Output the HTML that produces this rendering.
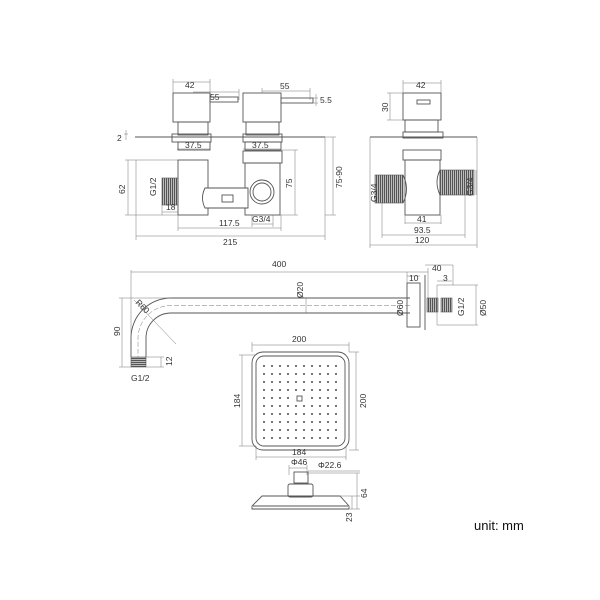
<!DOCTYPE html>
<html><head><meta charset="utf-8"><style>
html,body{margin:0;padding:0;background:#fff}
svg{display:block}
text{font-family:"Liberation Sans",sans-serif;font-size:8.5px;fill:#333}
.l{stroke:#555;stroke-width:0.9;fill:none}
.d{stroke:#777;stroke-width:0.5;fill:none}
.t{fill:#888;stroke:#444;stroke-width:0.6}
</style></head><body>
<svg width="600" height="600" viewBox="0 0 600 600">
<defs>
<pattern id="th" width="2" height="2" patternUnits="userSpaceOnUse"><rect width="2" height="2" fill="#bbb"/><rect width="1" height="2" fill="#555"/></pattern>
<pattern id="tv" width="2" height="2" patternUnits="userSpaceOnUse"><rect width="2" height="2" fill="#bbb"/><rect width="2" height="1" fill="#555"/></pattern>
</defs>
<!-- Front view valves -->
<g class="l">
<line x1="135" y1="137" x2="325" y2="137"/>
<rect x="173" y="93" width="37" height="29"/>
<rect x="210" y="97" width="28" height="5"/>
<rect x="178" y="122" width="30" height="13"/>
<rect x="172" y="134" width="39" height="8"/>
<rect x="178" y="142" width="32" height="8"/>
<rect x="178" y="160" width="30" height="55"/>
<rect x="243" y="93" width="38" height="29"/>
<rect x="281" y="98" width="32" height="5"/>
<rect x="246" y="122" width="33" height="13"/>
<rect x="243" y="134" width="39" height="8"/>
<rect x="245" y="142" width="36" height="8"/>
<rect x="243" y="151" width="39" height="12"/>
<rect x="245" y="163" width="35" height="52"/>
<path d="M205 188 H248 V208 H205 Q200 198 205 188Z" fill="#fff"/>
<rect x="222" y="195" width="11" height="7"/>
<circle cx="262" cy="192" r="12" fill="#fff"/>
<circle cx="262" cy="192" r="9"/>
</g>
<rect x="162" y="178" width="16" height="27" fill="url(#th)" stroke="#555" stroke-width="0.6"/>
<g class="d">
<line x1="173" y1="82" x2="210" y2="82"/><line x1="173" y1="79" x2="173" y2="93"/><line x1="210" y1="79" x2="210" y2="93"/>
<line x1="193" y1="92" x2="239" y2="92"/><line x1="239" y1="89" x2="239" y2="100"/>
<line x1="262" y1="91" x2="310" y2="91"/><line x1="262" y1="88" x2="262" y2="93"/><line x1="310" y1="88" x2="310" y2="100"/>
<line x1="313" y1="98" x2="318" y2="98"/><line x1="313" y1="103" x2="318" y2="103"/><line x1="316" y1="94" x2="316" y2="106"/>
<line x1="124" y1="134" x2="128" y2="134"/><line x1="126" y1="130" x2="126" y2="140"/>
<line x1="177" y1="149" x2="210" y2="149"/><line x1="243" y1="149" x2="281" y2="149"/>
<line x1="125" y1="160" x2="178" y2="160"/><line x1="125" y1="215" x2="178" y2="215"/><line x1="128" y1="160" x2="128" y2="215"/>
<line x1="162" y1="205" x2="162" y2="215"/><line x1="162" y1="212" x2="178" y2="212"/>
<line x1="282" y1="150" x2="298" y2="150"/><line x1="280" y1="215" x2="298" y2="215"/><line x1="295" y1="150" x2="295" y2="215"/>
<line x1="325" y1="137" x2="336" y2="137"/><line x1="325" y1="215" x2="336" y2="215"/><line x1="333" y1="137" x2="333" y2="215"/>
<line x1="325" y1="137" x2="325" y2="240"/><line x1="136" y1="160" x2="136" y2="240"/>
<line x1="252" y1="215" x2="252" y2="227"/><line x1="273" y1="215" x2="273" y2="227"/><line x1="252" y1="224" x2="273" y2="224"/>
<line x1="178" y1="215" x2="178" y2="231"/><line x1="281" y1="215" x2="281" y2="231"/><line x1="178" y1="228" x2="281" y2="228"/>
<line x1="136" y1="236" x2="325" y2="236"/>
</g>
<text x="185" y="88">42</text><text x="210" y="100">55</text><text x="280" y="89">55</text><text x="320" y="103">5.5</text>
<text x="117" y="141">2</text><text x="185" y="148">37.5</text><text x="252" y="148">37.5</text>
<text x="166" y="210">18</text><text x="252" y="222">G3/4</text><text x="219" y="226">117.5</text><text x="223" y="245">215</text>
<text transform="translate(125,194) rotate(-90)">62</text>
<text transform="translate(156,196) rotate(-90)">G1/2</text>
<text transform="translate(292,188) rotate(-90)">75</text>
<text transform="translate(342,188) rotate(-90)">75-90</text>
<!-- Side view -->
<g class="l">
<line x1="370" y1="137" x2="477" y2="137"/>
<rect x="403" y="93" width="38" height="27"/>
<rect x="417" y="100" width="13" height="4"/>
<rect x="405" y="120" width="33" height="12"/>
<rect x="403" y="132" width="40" height="6"/>
<rect x="403" y="150" width="38" height="10"/>
<rect x="405" y="160" width="35" height="55"/>
<path d="M403 175 Q410 189 403 203"/><path d="M440 170 Q434 182 440 195"/>
</g>
<rect x="375" y="175" width="28" height="28" fill="url(#th)" stroke="#555" stroke-width="0.6"/>
<rect x="440" y="170" width="34" height="25" fill="url(#th)" stroke="#555" stroke-width="0.6"/>
<g class="d">
<line x1="403" y1="83" x2="441" y2="83"/><line x1="403" y1="80" x2="403" y2="93"/><line x1="441" y1="80" x2="441" y2="93"/>
<line x1="387" y1="93" x2="403" y2="93"/><line x1="387" y1="120" x2="403" y2="120"/><line x1="390" y1="93" x2="390" y2="120"/>
<line x1="476" y1="170" x2="476" y2="195"/>
<line x1="370" y1="137" x2="370" y2="248"/><line x1="477" y1="137" x2="477" y2="248"/>
<line x1="382" y1="203" x2="382" y2="238"/><line x1="465" y1="195" x2="465" y2="238"/>
<line x1="405" y1="215" x2="405" y2="224"/><line x1="441" y1="215" x2="441" y2="224"/><line x1="405" y1="223" x2="441" y2="223"/>
<line x1="382" y1="235" x2="465" y2="235"/><line x1="370" y1="245" x2="477" y2="245"/>
</g>
<text x="416" y="88">42</text><text x="417" y="222">41</text><text x="414" y="233">93.5</text><text x="415" y="243">120</text>
<text transform="translate(388,112) rotate(-90)">30</text>
<text transform="translate(377,202) rotate(-90)">G3/4</text>
<text transform="translate(473,196) rotate(-90)">G3/4</text>
<!-- Arm -->
<g class="l">
<path d="M410 298 H171 A40 40 0 0 0 131 338 V357"/>
<path d="M410 313 H171 A25 25 0 0 0 146 338 V357"/>
<rect x="407" y="283" width="13" height="44"/>
<line x1="425" y1="275" x2="425" y2="330"/>
</g>
<path d="M410 305.5 H171 A33 33 0 0 0 138 338 V360" class="d" stroke-dasharray="5 2"/>
<rect x="131" y="357" width="15" height="10" fill="url(#tv)" stroke="#555" stroke-width="0.6"/>
<rect x="427" y="298" width="11" height="14" fill="url(#th)" stroke="#555" stroke-width="0.6"/>
<rect x="441" y="298" width="11" height="14" fill="url(#th)" stroke="#555" stroke-width="0.6"/>
<g class="d">
<line x1="131" y1="272" x2="428" y2="272"/><line x1="131" y1="270" x2="131" y2="338"/><line x1="428" y1="268" x2="428" y2="298"/>
<line x1="119" y1="298" x2="171" y2="298"/><line x1="119" y1="367" x2="131" y2="367"/><line x1="122" y1="298" x2="122" y2="367"/>
<line x1="146" y1="357" x2="164" y2="357"/><line x1="146" y1="367" x2="164" y2="367"/><line x1="161" y1="357" x2="161" y2="367"/>
<line x1="134" y1="300" x2="176" y2="344"/>
<line x1="306" y1="298" x2="306" y2="313"/>
<line x1="437" y1="285" x2="478" y2="285"/><line x1="437" y1="325" x2="478" y2="325"/><line x1="476" y1="285" x2="476" y2="325"/><line x1="437" y1="285" x2="437" y2="325"/>
<line x1="407" y1="283" x2="407" y2="272"/><line x1="407" y1="276" x2="420" y2="276"/>
<line x1="425" y1="265" x2="453" y2="265"/><line x1="453" y1="265" x2="453" y2="285"/>
<line x1="437" y1="281" x2="452" y2="281"/>
</g>
<text x="272" y="267">400</text><text x="409" y="281">10</text><text x="432" y="271">40</text><text x="443" y="281">3</text>
<text x="131" y="381">G1/2</text>
<text transform="translate(120,336) rotate(-90)">90</text>
<text transform="translate(172,366) rotate(-90)">12</text>
<text transform="translate(303,298) rotate(-90)">Ø20</text>
<text transform="translate(403,316) rotate(-90)">Ø60</text>
<text transform="translate(464,316) rotate(-90)">G1/2</text>
<text transform="translate(486,316) rotate(-90)">Ø50</text>
<text transform="translate(135,303) rotate(45)">R60</text>
<!-- Shower head -->
<g class="l">
<rect x="252" y="352" width="97" height="98" rx="11"/>
<rect x="256" y="356" width="89" height="90" rx="8"/>
<rect x="297" y="396" width="5" height="5"/>
<rect x="294" y="472" width="14" height="11"/>
<rect x="288" y="484" width="25" height="13" rx="2"/>
<path d="M262 496 H340 L349 506 V509 H252 V506 Z"/>
<line x1="253" y1="506" x2="348" y2="506"/>
</g>
<g fill="#666" id="dots"></g>
<g class="d">
<line x1="252" y1="345" x2="349" y2="345"/><line x1="252" y1="342" x2="252" y2="352"/><line x1="349" y1="342" x2="349" y2="352"/>
<line x1="239" y1="355" x2="256" y2="355"/><line x1="239" y1="446" x2="256" y2="446"/><line x1="242" y1="355" x2="242" y2="446"/>
<line x1="349" y1="352" x2="359" y2="352"/><line x1="349" y1="450" x2="359" y2="450"/><line x1="356" y1="352" x2="356" y2="450"/>
<line x1="256" y1="446" x2="256" y2="460"/><line x1="346" y1="446" x2="346" y2="460"/><line x1="256" y1="457" x2="346" y2="457"/>
<line x1="289" y1="468" x2="307" y2="468"/><line x1="289" y1="465" x2="289" y2="475"/><line x1="307" y1="465" x2="307" y2="475"/>
<line x1="308" y1="471" x2="360" y2="471"/>
<line x1="308" y1="473" x2="360" y2="473"/><line x1="340" y1="496" x2="360" y2="496"/><line x1="350" y1="509" x2="360" y2="509"/>
<line x1="357" y1="473" x2="357" y2="509"/><line x1="352" y1="496" x2="352" y2="509"/>
</g>
<g fill="#777">
<script>
</script>
</g>
<text x="292" y="342">200</text><text x="292" y="455">184</text><text x="291" y="465">Φ46</text><text x="318" y="468">Φ22.6</text>
<text transform="translate(240,408) rotate(-90)">184</text>
<text transform="translate(366,408) rotate(-90)">200</text>
<text transform="translate(367,498) rotate(-90)">64</text>
<text transform="translate(352,522) rotate(-90)">23</text>
<text x="474" y="530" style="font-size:13px;fill:#111">unit: mm</text>
<g fill="#777">
<rect x="263" y="365" width="2" height="2"/><rect x="271" y="365" width="2" height="2"/><rect x="279" y="365" width="2" height="2"/><rect x="287" y="365" width="2" height="2"/><rect x="295" y="365" width="2" height="2"/><rect x="303" y="365" width="2" height="2"/><rect x="311" y="365" width="2" height="2"/><rect x="319" y="365" width="2" height="2"/><rect x="327" y="365" width="2" height="2"/><rect x="335" y="365" width="2" height="2"/>
<rect x="263" y="373" width="2" height="2"/><rect x="271" y="373" width="2" height="2"/><rect x="279" y="373" width="2" height="2"/><rect x="287" y="373" width="2" height="2"/><rect x="295" y="373" width="2" height="2"/><rect x="303" y="373" width="2" height="2"/><rect x="311" y="373" width="2" height="2"/><rect x="319" y="373" width="2" height="2"/><rect x="327" y="373" width="2" height="2"/><rect x="335" y="373" width="2" height="2"/>
<rect x="263" y="381" width="2" height="2"/><rect x="271" y="381" width="2" height="2"/><rect x="279" y="381" width="2" height="2"/><rect x="287" y="381" width="2" height="2"/><rect x="295" y="381" width="2" height="2"/><rect x="303" y="381" width="2" height="2"/><rect x="311" y="381" width="2" height="2"/><rect x="319" y="381" width="2" height="2"/><rect x="327" y="381" width="2" height="2"/><rect x="335" y="381" width="2" height="2"/>
<rect x="263" y="389" width="2" height="2"/><rect x="271" y="389" width="2" height="2"/><rect x="279" y="389" width="2" height="2"/><rect x="287" y="389" width="2" height="2"/><rect x="295" y="389" width="2" height="2"/><rect x="303" y="389" width="2" height="2"/><rect x="311" y="389" width="2" height="2"/><rect x="319" y="389" width="2" height="2"/><rect x="327" y="389" width="2" height="2"/><rect x="335" y="389" width="2" height="2"/>
<rect x="263" y="405" width="2" height="2"/><rect x="271" y="405" width="2" height="2"/><rect x="279" y="405" width="2" height="2"/><rect x="287" y="405" width="2" height="2"/><rect x="295" y="405" width="2" height="2"/><rect x="303" y="405" width="2" height="2"/><rect x="311" y="405" width="2" height="2"/><rect x="319" y="405" width="2" height="2"/><rect x="327" y="405" width="2" height="2"/><rect x="335" y="405" width="2" height="2"/>
<rect x="263" y="413" width="2" height="2"/><rect x="271" y="413" width="2" height="2"/><rect x="279" y="413" width="2" height="2"/><rect x="287" y="413" width="2" height="2"/><rect x="295" y="413" width="2" height="2"/><rect x="303" y="413" width="2" height="2"/><rect x="311" y="413" width="2" height="2"/><rect x="319" y="413" width="2" height="2"/><rect x="327" y="413" width="2" height="2"/><rect x="335" y="413" width="2" height="2"/>
<rect x="263" y="421" width="2" height="2"/><rect x="271" y="421" width="2" height="2"/><rect x="279" y="421" width="2" height="2"/><rect x="287" y="421" width="2" height="2"/><rect x="295" y="421" width="2" height="2"/><rect x="303" y="421" width="2" height="2"/><rect x="311" y="421" width="2" height="2"/><rect x="319" y="421" width="2" height="2"/><rect x="327" y="421" width="2" height="2"/><rect x="335" y="421" width="2" height="2"/>
<rect x="263" y="429" width="2" height="2"/><rect x="271" y="429" width="2" height="2"/><rect x="279" y="429" width="2" height="2"/><rect x="287" y="429" width="2" height="2"/><rect x="295" y="429" width="2" height="2"/><rect x="303" y="429" width="2" height="2"/><rect x="311" y="429" width="2" height="2"/><rect x="319" y="429" width="2" height="2"/><rect x="327" y="429" width="2" height="2"/><rect x="335" y="429" width="2" height="2"/>
<rect x="263" y="437" width="2" height="2"/><rect x="271" y="437" width="2" height="2"/><rect x="279" y="437" width="2" height="2"/><rect x="287" y="437" width="2" height="2"/><rect x="295" y="437" width="2" height="2"/><rect x="303" y="437" width="2" height="2"/><rect x="311" y="437" width="2" height="2"/><rect x="319" y="437" width="2" height="2"/><rect x="327" y="437" width="2" height="2"/><rect x="335" y="437" width="2" height="2"/>
<rect x="263" y="397" width="2" height="2"/><rect x="271" y="397" width="2" height="2"/><rect x="279" y="397" width="2" height="2"/><rect x="287" y="397" width="2" height="2"/><rect x="311" y="397" width="2" height="2"/><rect x="319" y="397" width="2" height="2"/><rect x="327" y="397" width="2" height="2"/><rect x="335" y="397" width="2" height="2"/>
</g>
</svg>
</body></html>
